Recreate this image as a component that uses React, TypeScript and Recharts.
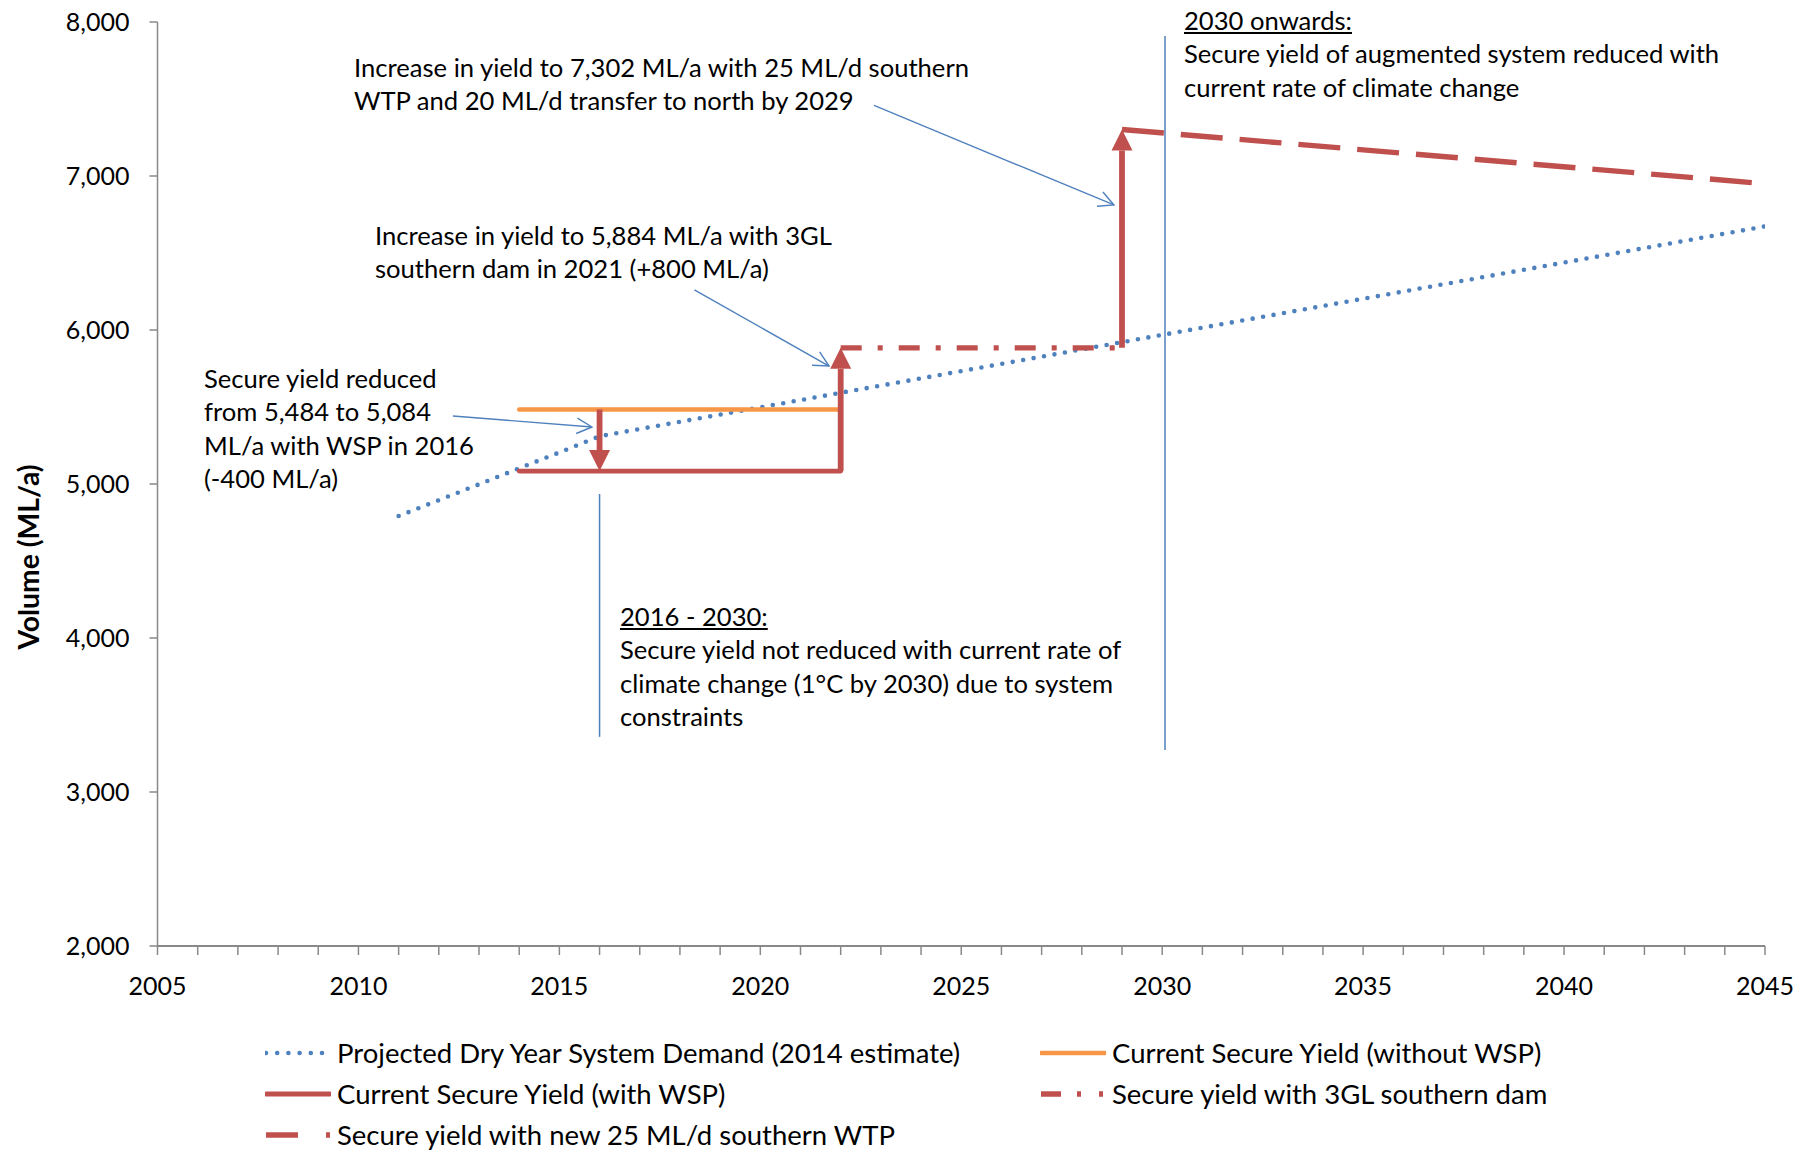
import React from "react";
import { LineChart, Line, XAxis, YAxis, ReferenceLine, Legend } from "recharts";

// Projected dry year system demand (ML/a), one value per year
const demandYears = [
  2011, 2012, 2013, 2014, 2015, 2016, 2017, 2018, 2019, 2020, 2021, 2022,
  2023, 2024, 2025, 2026, 2027, 2028, 2029, 2030, 2031, 2032, 2033, 2034,
  2035, 2036, 2037, 2038, 2039, 2040, 2041, 2042, 2043, 2044, 2045,
];
const demandVolumes = [
  4792, 4895, 4998, 5102, 5205, 5310, 5357, 5404, 5451, 5498, 5545, 5592,
  5639, 5686, 5733, 5780, 5827, 5874, 5921, 5968, 6015, 6062, 6109, 6156,
  6203, 6250, 6297, 6344, 6391, 6438, 6485, 6532, 6579, 6626, 6673,
];

// Secure yield scenarios
const withoutWspYears = [2014, 2022];
const withoutWspVolumes = [5484, 5484];
const withWspYears = [2014, 2022];
const withWspVolumes = [5084, 5084];
const damYears = [2022, 2029];
const damVolumes = [5884, 5884];
const wtpYears = [2029, 2045];
const wtpVolumes = [7302, 6950];

// Step changes between scenarios (year, from, to)
const stepYears = [2016, 2022, 2029];
const stepFrom = [5484, 5084, 5884];
const stepTo = [5084, 5884, 7302];

// Axis ticks
const yearTicks = Array.from({ length: 41 }, (_, i) => 2005 + i);
const labelledYears = [2005, 2010, 2015, 2020, 2025, 2030, 2035, 2040, 2045];
const volumeTicks = [2000, 3000, 4000, 5000, 6000, 7000, 8000];

// Callout pointers: [startYear, startVolume, tipYear, tipVolume]
const pointers = [
  [2022.83, 7458, 2028.8, 6812],
  [2018.36, 6260, 2021.71, 5766],
  [2012.35, 5442, 2015.81, 5370],
];
// Period divider lines: [year, topVolume, bottomVolume]
const dividers = [
  [2016, 4935, 3358],
  [2030.07, 7909, 3273],
];

const BLUE = "#4F81BD";
const ORANGE = "#F79646";
const RED = "#C0504D";
const AXIS = "#898989";
const FONT = "Lato, 'Open Sans', sans-serif";

const toPoints = (xs: number[], ys: number[]) =>
  xs.map((year, i) => ({ year, volume: ys[i] }));

const series = [
  {
    key: "demand",
    name: "Projected Dry Year System Demand (2014 estimate)",
    data: toPoints(demandYears, demandVolumes),
    stroke: BLUE,
    width: 4.6,
    dash: "0 10.6",
    cap: "round",
    legendDash: "0 11.2",
  },
  {
    key: "without",
    name: "Current Secure Yield (without WSP)",
    data: toPoints(withoutWspYears, withoutWspVolumes),
    stroke: ORANGE,
    width: 4.5,
    dash: undefined,
    cap: "round",
    legendDash: undefined,
  },
  {
    key: "with",
    name: "Current Secure Yield (with WSP)",
    data: toPoints(withWspYears, withWspVolumes),
    stroke: RED,
    width: 4.8,
    dash: undefined,
    cap: "round",
    legendDash: undefined,
  },
  {
    key: "dam",
    name: "Secure yield with 3GL southern dam",
    data: toPoints(damYears, damVolumes),
    stroke: RED,
    width: 5.4,
    dash: "21 16 5 16",
    cap: "butt",
    legendDash: "20 16 4 18 4",
  },
  {
    key: "wtp",
    name: "Secure yield with new 25 ML/d southern WTP",
    data: toPoints(wtpYears, wtpVolumes),
    stroke: RED,
    width: 5.4,
    dash: "42 17",
    cap: "butt",
    legendDash: "32 28 4",
  },
];

// legend grid: [column, row] for each series
const legendSlots = [
  [0, 0],
  [1, 0],
  [0, 1],
  [1, 1],
  [0, 2],
];
const legendColumns = [
  { sample: 265, text: 337 },
  { sample: 1040, text: 1112 },
];

const StepArrow = (props: any) => {
  const { x1, y1, x2, y2 } = props;
  const dir = y2 > y1 ? 1 : -1;
  const head = 21;
  const half = 10.5;
  const baseY = y2 - dir * head;
  return (
    <g>
      <line x1={x1} y1={y1} x2={x2} y2={baseY} stroke={RED} strokeWidth={5.8} />
      <polygon
        points={`${x2},${y2} ${x2 - half},${baseY} ${x2 + half},${baseY}`}
        fill={RED}
      />
    </g>
  );
};

const Pointer = (props: any) => {
  const { x1, y1, x2, y2 } = props;
  const angle = Math.atan2(y2 - y1, x2 - x1);
  const len = 17;
  const spread = (27 * Math.PI) / 180;
  const ax = x2 - len * Math.cos(angle - spread);
  const ay = y2 - len * Math.sin(angle - spread);
  const bx = x2 - len * Math.cos(angle + spread);
  const by = y2 - len * Math.sin(angle + spread);
  return (
    <g stroke={BLUE} strokeWidth={1.4} fill="none">
      <line x1={x1} y1={y1} x2={x2} y2={y2} />
      <polyline points={`${ax},${ay} ${x2},${y2} ${bx},${by}`} />
    </g>
  );
};

const LegendBlock = () => (
  <div style={{ position: "relative", width: 1803, height: 130 }}>
    {series.map((s, i) => {
      const [col, row] = legendSlots[i];
      const c = legendColumns[col];
      const cy = 25 + row * 41;
      return (
        <React.Fragment key={s.key}>
          <svg
            style={{ position: "absolute", left: c.sample, top: cy - 6 }}
            width={66}
            height={12}
          >
            <line
              x1={1}
              y1={6}
              x2={65}
              y2={6}
              stroke={s.stroke}
              strokeWidth={s.width}
              strokeDasharray={s.legendDash}
              strokeLinecap={s.cap as any}
            />
          </svg>
          <div
            style={{
              position: "absolute",
              left: c.text,
              top: cy - 18,
              height: 36,
              lineHeight: "36px",
              fontSize: 27.5,
              fontFamily: FONT,
              color: "#000",
              whiteSpace: "nowrap",
            }}
          >
            {s.name}
          </div>
        </React.Fragment>
      );
    })}
  </div>
);

// Text notes: left, top of first line, underlined heading, lines
const notes = [
  {
    left: 354,
    top: 51,
    heading: "",
    lines: [
      "Increase in yield to 7,302 ML/a with 25 ML/d southern",
      "WTP and 20 ML/d transfer to north by 2029",
    ],
  },
  {
    left: 375,
    top: 219,
    heading: "",
    lines: [
      "Increase in yield to 5,884 ML/a with 3GL",
      "southern dam in 2021 (+800 ML/a)",
    ],
  },
  {
    left: 204,
    top: 362,
    heading: "",
    lines: [
      "Secure yield reduced",
      "from 5,484 to 5,084",
      "ML/a with WSP in 2016",
      "(-400 ML/a)",
    ],
  },
  {
    left: 620,
    top: 600,
    heading: "2016 - 2030:",
    lines: [
      "Secure yield not reduced with current rate of",
      "climate change (1°C by 2030) due to system",
      "constraints",
    ],
  },
  {
    left: 1184,
    top: 4,
    heading: "2030 onwards:",
    lines: [
      "Secure yield of augmented system reduced with",
      "current rate of climate change",
    ],
  },
];

export default function App() {
  return (
    <div
      style={{
        position: "absolute",
        left: 0,
        top: 0,
        width: 1803,
        height: 1151,
        background: "#fff",
        overflow: "hidden",
      }}
    >
      <LineChart
        width={1803}
        height={1151}
        margin={{ top: 22, right: 38, bottom: 15, left: 0 }}
      >
        <XAxis
          dataKey="year"
          type="number"
          domain={[2005, 2045]}
          ticks={yearTicks}
          interval={0}
          allowDataOverflow
          height={60}
          tickSize={9}
          tickMargin={22}
          tickFormatter={(v: number) =>
            labelledYears.includes(v) ? String(v) : ""
          }
          tick={{ fill: "#000", fontSize: 25, fontFamily: FONT }}
          axisLine={{ stroke: AXIS, strokeWidth: 2 }}
          tickLine={{ stroke: AXIS, strokeWidth: 1.5 }}
        />
        <YAxis
          dataKey="volume"
          type="number"
          domain={[2000, 8000]}
          ticks={volumeTicks}
          interval={0}
          allowDataOverflow
          width={157.5}
          tickSize={8}
          tickMargin={20}
          tickFormatter={(v: number) => v.toLocaleString("en-US")}
          tick={{ fill: "#000", fontSize: 25, fontFamily: FONT }}
          axisLine={{ stroke: AXIS, strokeWidth: 1.5 }}
          tickLine={{ stroke: AXIS, strokeWidth: 1.5 }}
          label={{
            content: () => (
              <text
                x={27.5}
                y={557}
                transform="rotate(-90 27.5 557)"
                textAnchor="middle"
                dominantBaseline="central"
                fontFamily={FONT}
                fontWeight={700}
                fontSize={28.3}
                fill="#000"
              >
                Volume (ML/a)
              </text>
            ),
          }}
        />
        <Legend
          verticalAlign="bottom"
          height={130}
          wrapperStyle={{ left: 0, top: 1028, bottom: "auto", width: 1803 }}
          content={() => <LegendBlock />}
        />
        {series.map((s) => (
          <Line
            key={s.key}
            data={s.data}
            dataKey="volume"
            name={s.name}
            type="linear"
            stroke={s.stroke}
            strokeWidth={s.width}
            strokeDasharray={s.dash}
            strokeLinecap={s.cap as any}
            dot={false}
            activeDot={false}
            isAnimationActive={false}
          />
        ))}
        {dividers.map(([year, top, bottom], i) => (
          <ReferenceLine
            key={`div-${i}`}
            segment={[
              { x: year, y: top },
              { x: year, y: bottom },
            ]}
            stroke={BLUE}
            strokeWidth={1.5}
          />
        ))}
        {stepYears.map((year, i) => (
          <ReferenceLine
            key={`step-${i}`}
            segment={[
              { x: year, y: stepFrom[i] },
              { x: year, y: stepTo[i] },
            ]}
            shape={StepArrow}
          />
        ))}
        {pointers.map(([sx, sy, tx, ty], i) => (
          <ReferenceLine
            key={`ptr-${i}`}
            segment={[
              { x: sx, y: sy },
              { x: tx, y: ty },
            ]}
            shape={Pointer}
          />
        ))}
      </LineChart>
      {notes.map((n, i) => (
        <div
          key={i}
          style={{
            position: "absolute",
            left: n.left,
            top: n.top,
            fontFamily: FONT,
            fontSize: 25.6,
            lineHeight: "33.4px",
            color: "#000",
            whiteSpace: "nowrap",
            pointerEvents: "none",
          }}
        >
          {n.heading && (
            <div style={{ textDecoration: "underline" }}>{n.heading}</div>
          )}
          {n.lines.map((l, j) => (
            <div key={j}>{l}</div>
          ))}
        </div>
      ))}
    </div>
  );
}
